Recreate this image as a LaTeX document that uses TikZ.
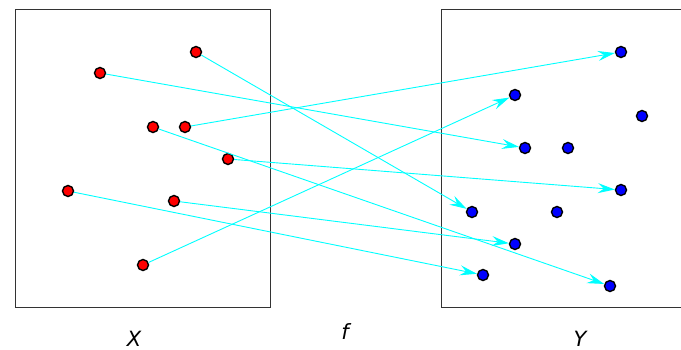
\documentclass[tikz,border=0pt]{standalone}
\usepackage{fontspec}
\setsansfont{DejaVu Sans}
\usetikzlibrary{arrows.meta}
\definecolor{mapcyan}{RGB}{0,255,255}
\tikzset{
  xpoint/.style   = {circle, draw=black, fill=red, line width=1.4pt,
                     minimum size=11pt, inner sep=0pt},
  ypoint/.style   = {circle, draw=black, fill=blue, line width=1.4pt,
                     minimum size=11pt, inner sep=0pt},
  maparrow/.style = {-{Stealth[length=17pt, width=10pt, inset=6pt]},
                     mapcyan, line width=0.9pt},
  setbox/.style   = {draw=black!80, line width=1pt},
  setlabel/.style = {font=\fontsize{21}{25}\selectfont\sffamily\itshape,
                     anchor=base, inner sep=0pt},
}
\begin{document}
\begin{tikzpicture}[x=1pt, y=-1pt]

    \useasboundingbox (0,0) rectangle (681,350);

    % --- SETS ---
    \draw[setbox] (15,10) rectangle (270,307);
    \draw[setbox] (681,10) -- (441,10) -- (441,307) -- (681,307);

    % --- LABELS ---
    \node[setlabel] (labX) at (134,346) {X};
    \node[setlabel] (labf) at (345,339) {f};
    \node[setlabel] (labY) at (580,346) {Y};

    % --- DOMAIN POINTS ---
    \foreach \n/\px/\py in {1/196/52, 2/100/73, 3/153/127, 4/185/127,
                            5/228/159, 6/68/191, 7/174/201, 8/143/265}
        \node[xpoint] (x\n) at (\px,\py) {};

    % --- CODOMAIN POINTS ---
    \foreach \n/\px/\py in {1/621/52, 2/515/95, 3/642/116, 4/525/148,
                            5/568/148, 6/621/190, 7/472/212, 8/557/212,
                            9/515/244, 10/483/275, 11/610/286}
        \node[ypoint] (y\n) at (\px,\py) {};

    % --- MAP f ---
    \foreach \a/\b in {1/7, 2/4, 3/11, 4/1, 5/6, 6/10, 7/9, 8/2}
        \draw[maparrow] (x\a) -- (y\b);

\end{tikzpicture}
\end{document}
